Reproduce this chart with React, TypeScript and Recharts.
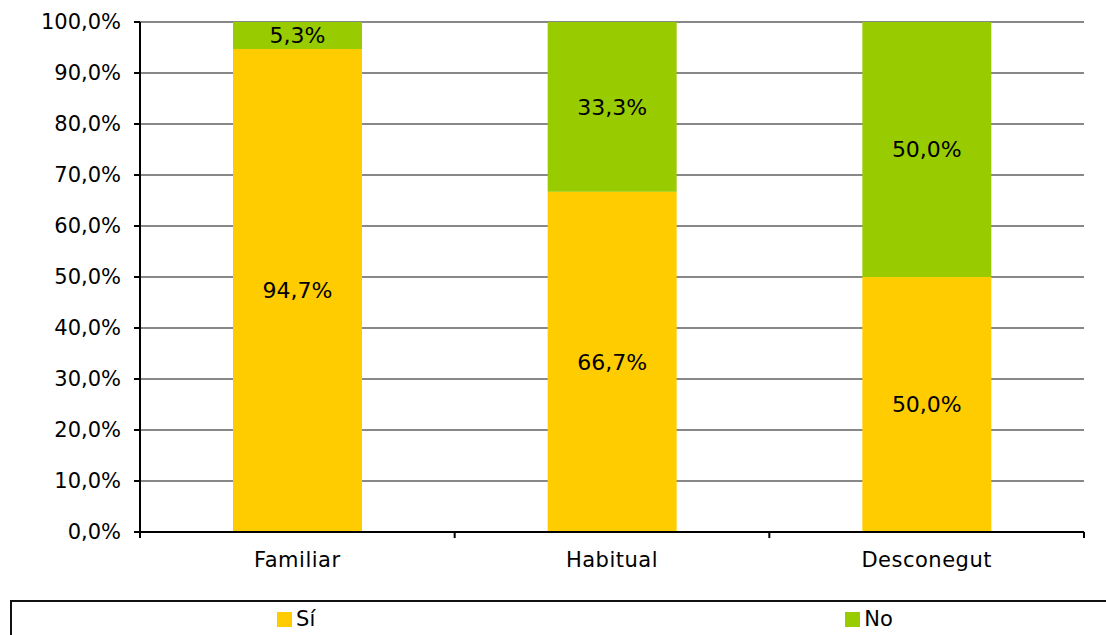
import { BarChart, Bar, XAxis, YAxis, CartesianGrid, LabelList, Legend } from 'recharts';

const categories = ['Familiar', 'Habitual', 'Desconegut'];
const siValues = [94.7, 66.7, 50.0];
const noValues = [5.3, 33.3, 50.0];
const yTicks = [0, 10, 20, 30, 40, 50, 60, 70, 80, 90, 100];

const seriesInfo = [
  { key: 'si', name: 'Sí', color: '#FFCC00' },
  { key: 'no', name: 'No', color: '#99CC00' },
];

const data = categories.map((name, i) => ({ name, si: siValues[i], no: noValues[i] }));

const FONT = '"DejaVu Sans", Verdana, sans-serif';

const fmt = (v: number) => v.toFixed(1).replace('.', ',') + '%';

function CategoryTick(props: any) {
  const { x, y, payload, index } = props;
  const half = payload.offset || 0;
  const axisY = y - 6;
  return (
    <g>
      <line x1={x - half} x2={x - half} y1={axisY} y2={axisY + 6} stroke="#000" strokeWidth={2} />
      {index === categories.length - 1 && (
        <line x1={x + half} x2={x + half} y1={axisY} y2={axisY + 6} stroke="#000" strokeWidth={2} />
      )}
      <text
        x={x}
        y={axisY + 28}
        textAnchor="middle"
        dominantBaseline="central"
        fill="#000"
        fontSize={21}
        fontFamily={FONT}
        letterSpacing={0.5}
      >
        {payload.value}
      </text>
    </g>
  );
}

// legend keeps the series order (Sí first, then No)
function LegendBox(props: any) {
  const payload = [...(props.payload || [])].sort(
    (a: any, b: any) =>
      seriesInfo.findIndex((s) => s.name === a.value) - seriesInfo.findIndex((s) => s.name === b.value)
  );
  return (
    <div
      style={{
        border: '2px solid #111',
        height: 40,
        display: 'flex',
        justifyContent: 'space-around',
        alignItems: 'center',
        boxSizing: 'border-box',
        paddingBottom: 2,
      }}
    >
      {payload.map((p: any) => (
        <div key={p.value} style={{ display: 'flex', alignItems: 'center', fontFamily: FONT, fontSize: 21 }}>
          <span style={{ width: 15, height: 15, background: p.color, display: 'inline-block', marginRight: 4 }} />
          <span>{p.value}</span>
        </div>
      ))}
    </div>
  );
}

export default function App() {
  return (
    <div style={{ position: 'absolute', left: 0, top: 0, width: 1106, height: 635, background: '#fff', overflow: 'hidden' }}>
      <BarChart
        width={1106}
        height={635}
        data={data}
        margin={{ top: 22, right: 22, bottom: 63, left: 0 }}
        barSize={129}
      >
        <CartesianGrid vertical={false} stroke="#888" strokeWidth={2} />
        <XAxis
          dataKey="name"
          axisLine={{ stroke: '#000', strokeWidth: 2 }}
          tickLine={false}
          tick={<CategoryTick />}
          height={40}
          tickMargin={0}
          interval={0}
        />
        <YAxis
          domain={[0, 100]}
          ticks={yTicks}
          tickFormatter={fmt}
          width={140}
          axisLine={{ stroke: '#000', strokeWidth: 2 }}
          tickLine={{ stroke: '#000', strokeWidth: 2 }}
          tickSize={6}
          tickMargin={13}
          tick={{ fill: '#000', fontSize: 21, fontFamily: FONT }}
          interval={0}
        />
        <Legend
          layout="vertical"
          align="center"
          verticalAlign="middle"
          content={<LegendBox />}
          wrapperStyle={{ position: 'absolute', left: 10, top: 600, width: 1150 }}
        />
        {seriesInfo.map((s) => (
          <Bar key={s.key} dataKey={s.key} name={s.name} stackId="a" fill={s.color} isAnimationActive={false}>
            <LabelList dataKey={s.key} position="center" formatter={(v: any) => fmt(Number(v))} fill="#000" fontSize={22} fontFamily={FONT} />
          </Bar>
        ))}
      </BarChart>
    </div>
  );
}
